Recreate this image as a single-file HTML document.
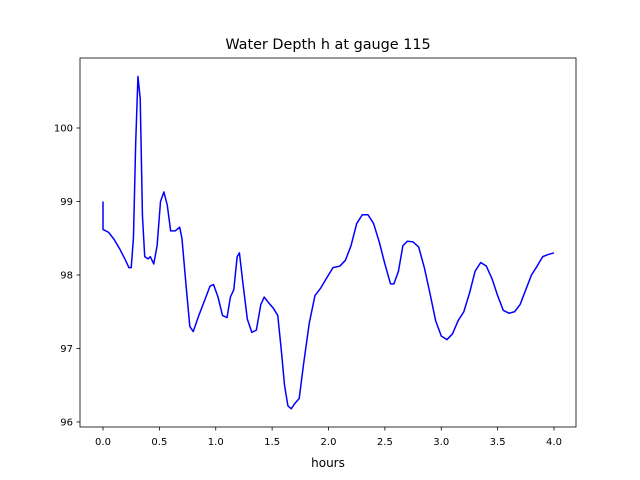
<!DOCTYPE html>
<html><head><meta charset="utf-8"><style>
body{margin:0;background:#fff}
svg{display:block;font-family:"DejaVu Sans","Liberation Sans",sans-serif}
</style></head><body>
<svg id="chart" width="640" height="480">
<rect x="0" y="0" width="640" height="480" fill="#fff"/>
<text x="328" y="49" text-anchor="middle" font-size="14.4">Water Depth h at gauge 115</text>
<g id="plot"></g>
<rect x="80" y="58" width="496" height="369" fill="none" stroke="#000" stroke-width="0.8"/>
<text x="328" y="467" text-anchor="middle" font-size="12">hours</text>
</svg>
<script>
const times=[0,0,0.05,0.1,0.15,0.2,0.23,0.25,0.27,0.29,0.31,0.33,0.35,0.37,0.4,0.42,0.45,0.48,0.51,0.54,0.57,0.6,0.64,0.68,0.7,0.74,0.77,0.8,0.85,0.9,0.95,0.98,1.02,1.06,1.1,1.13,1.16,1.19,1.21,1.24,1.28,1.32,1.36,1.4,1.43,1.47,1.51,1.55,1.58,1.61,1.64,1.67,1.7,1.74,1.78,1.83,1.88,1.93,1.98,2.04,2.1,2.15,2.2,2.25,2.3,2.35,2.4,2.45,2.5,2.55,2.58,2.62,2.66,2.7,2.75,2.8,2.85,2.9,2.95,3.0,3.05,3.1,3.15,3.2,3.25,3.3,3.35,3.4,3.45,3.5,3.55,3.6,3.65,3.7,3.75,3.8,3.85,3.9,3.95,4.0];
const depths=[99.0,98.62,98.58,98.48,98.35,98.2,98.1,98.1,98.5,99.8,100.7,100.4,98.8,98.25,98.22,98.25,98.15,98.4,99.0,99.13,98.95,98.6,98.6,98.65,98.5,97.8,97.3,97.23,97.45,97.65,97.85,97.87,97.7,97.45,97.42,97.7,97.8,98.25,98.3,97.9,97.4,97.22,97.25,97.6,97.7,97.62,97.55,97.45,97.0,96.5,96.22,96.18,96.25,96.32,96.8,97.35,97.72,97.82,97.95,98.1,98.12,98.2,98.4,98.7,98.82,98.82,98.7,98.45,98.15,97.88,97.88,98.05,98.4,98.46,98.45,98.38,98.1,97.75,97.38,97.17,97.12,97.2,97.38,97.5,97.75,98.05,98.17,98.12,97.95,97.72,97.52,97.48,97.5,97.6,97.8,98.0,98.12,98.25,98.28,98.3];
const xTicks=[0,0.5,1,1.5,2,2.5,3,3.5,4];
const xTickLabels=["0.0","0.5","1.0","1.5","2.0","2.5","3.0","3.5","4.0"];
const yTicks=[96,97,98,99,100];
const yTickLabels=["96","97","98","99","100"];
const xs=t=>103+t*112.75;
const ys=v=>128+(100-v)*73.5;
const NS="http://www.w3.org/2000/svg";
const g=document.getElementById('plot');
function mk(tag,attrs){const e=document.createElementNS(NS,tag);for(const k in attrs)e.setAttribute(k,attrs[k]);g.appendChild(e);return e;}
xTicks.forEach((t,i)=>{
 const l=mk('line',{x1:xs(t),x2:xs(t),y1:427,y2:430.5,stroke:'#000','stroke-width':0.8});
 
 
 const tx=mk('text',{x:xs(t),y:445,'text-anchor':'middle','font-size':10});
 tx.textContent=xTickLabels[i];
 
 
});
yTicks.forEach((v,i)=>{
 const l=mk('line',{x1:76.5,x2:80,y1:ys(v),y2:ys(v),stroke:'#000','stroke-width':0.8});
 
 
 const tx=mk('text',{x:73,y:ys(v)+3.5,'text-anchor':'end','font-size':10});
 tx.textContent=yTickLabels[i];
 
 
});
const pts=times.map((t,i)=>xs(t).toFixed(2)+','+ys(depths[i]).toFixed(2)).join(' ');
const pl=mk('polyline',{points:pts,fill:'none',stroke:'#0000ff','stroke-width':1.5,'stroke-linejoin':'round'});


</script>
</body></html>
